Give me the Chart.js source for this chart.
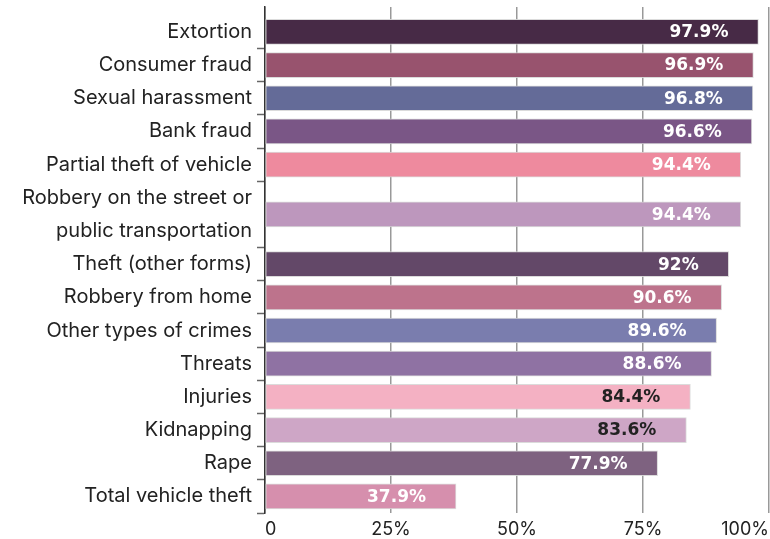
<!DOCTYPE html>
<html>
<head>
<meta charset="utf-8">
<script src="https://cdn.jsdelivr.net/npm/chart.js@4/dist/chart.umd.min.js"></script>
<style>
  html, body { margin: 0; padding: 0; background: #fff; }
  canvas { display: block; }
</style>
</head>
<body>
<canvas id="crimes-chart" width="770" height="539"></canvas>
<script>
// one entry per crime; a string array means a two-line label (takes two rows)
const crimeLabels = [
	'Extortion',
	'Consumer fraud',
	'Sexual harassment',
	'Bank fraud',
	'Partial theft of vehicle',
	['Robbery on the street or', 'public transportation'],
	'Theft (other forms)',
	'Robbery from home',
	'Other types of crimes',
	'Threats',
	'Injuries',
	'Kidnapping',
	'Rape',
	'Total vehicle theft'
];
const crimeValues = [97.9, 96.9, 96.8, 96.6, 94.4, 94.4, 92, 90.6, 89.6, 88.6, 84.4, 83.6, 77.9, 37.9];
const barColors = ['#472a46', '#98536e', '#646b98', '#7a5686', '#ee8a9e', '#bd97bd', '#634868',
	'#bd738c', '#7a7dae', '#8f72a3', '#f4b1c3', '#cea6c6', '#7e6280', '#d68fad'];
const valueLabelColors = ['#fff', '#fff', '#fff', '#fff', '#fff', '#fff', '#fff',
	'#fff', '#fff', '#fff', '#222', '#222', '#fff', '#fff'];
const xTicks = [0, 25, 50, 75, 100];

// row centres and row boundaries on the y scale (multi-line labels get more room)
const rowCenters = [];
const rowEdges = [];
let cursor = -0.5;
crimeLabels.forEach(l => {
	const span = Array.isArray(l) ? l.length : 1;
	rowCenters.push(cursor + span / 2);
	cursor += span;
	rowEdges.push(cursor);
});
const isEdge = v => rowEdges.some(e => Math.abs(e - v) < 1e-6);

const valueLabels = {
	id: 'valueLabels',
	afterDatasetsDraw(chart) {
		const ctx = chart.ctx;
		const meta = chart.getDatasetMeta(0);
		ctx.save();
		ctx.font = 'bold 17px "DejaVu Sans"';
		ctx.textAlign = 'right';
		ctx.textBaseline = 'middle';
		meta.data.forEach((bar, i) => {
			ctx.fillStyle = valueLabelColors[i];
			ctx.fillText(crimeValues[i] + '%', bar.x - 30, bar.y + 1);
		});
		ctx.restore();
	}
};

new Chart(document.getElementById('crimes-chart'), {
	type: 'bar',
	data: {
		datasets: [{
			data: crimeValues.map((v, i) => ({ x: v, y: rowCenters[i] })),
			backgroundColor: barColors,
			borderColor: 'rgba(215,215,215,0.9)',
			borderWidth: 1,
			borderSkipped: false,
			barThickness: 25
		}]
	},
	options: {
		indexAxis: 'y',
		responsive: false,
		animation: false,
		layout: { padding: { top: 7, right: 1 } },
		plugins: {
			legend: { display: false },
			tooltip: { enabled: false }
		},
		scales: {
			x: {
				type: 'linear',
				min: 0,
				max: 100,
				afterBuildTicks: scale => { scale.ticks = xTicks.map(v => ({ value: v })); },
				ticks: {
					align: 'inner',
					color: '#222',
					padding: 0,
					font: { family: 'Inter', size: 18, lineHeight: 1 },
					callback: v => v === 0 ? '0' : v + '%'
				},
				grid: { color: '#999', lineWidth: 1.5, tickLength: 8, tickColor: 'rgba(0,0,0,0)' },
				border: { display: false }
			},
			y: {
				type: 'linear',
				reverse: true,
				offset: false,
				min: -0.75,
				max: 14.5,
				afterBuildTicks: scale => {
					scale.ticks = rowCenters.concat(rowEdges).sort((a, b) => a - b).map(v => ({ value: v }));
				},
				afterFit: scale => {
					scale.width = 265;
					scale.paddingTop = 0;
					scale.paddingBottom = 0;
				},
				ticks: {
					autoSkip: false,
					color: '#222',
					padding: 5,
					font: { family: 'Inter', size: 20, lineHeight: 1.65 },
					callback: v => {
						const i = rowCenters.findIndex(c => Math.abs(c - v) < 1e-6);
						return i >= 0 ? crimeLabels[i] : '';
					}
				},
				grid: {
					offset: false,
					drawOnChartArea: false,
					tickLength: 8,
					tickWidth: 1.5,
					tickColor: ctx => (ctx.tick && isEdge(ctx.tick.value)) ? '#666' : 'rgba(0,0,0,0)'
				},
				border: { display: true, color: '#333', width: 1.5 }
			}
		}
	},
	plugins: [valueLabels]
});
</script>
</body>
</html>
